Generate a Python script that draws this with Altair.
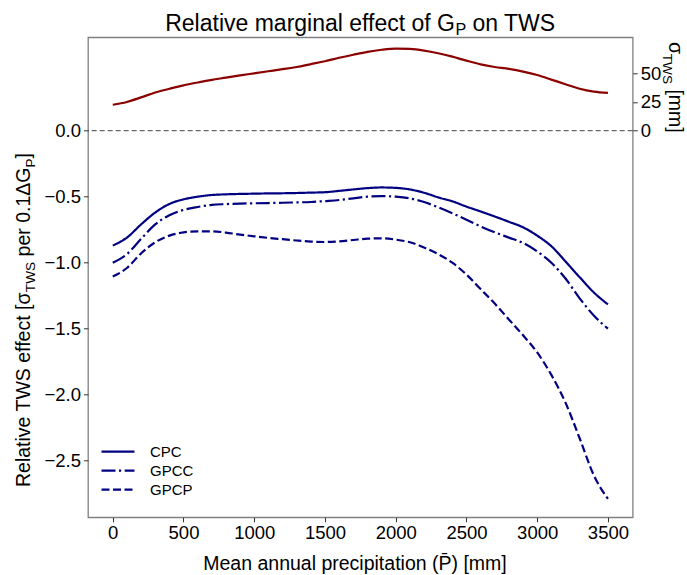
import altair as alt
import pandas as pd

# ---------------- data ----------------
precip = list(range(0, 3600, 100))

cpc = [-0.87, -0.81, -0.71, -0.62, -0.555, -0.52, -0.50, -0.487, -0.482, -0.479,
       -0.477, -0.475, -0.474, -0.472, -0.469, -0.466, -0.456, -0.445, -0.435, -0.43,
       -0.433, -0.445, -0.47, -0.505, -0.535, -0.575, -0.612, -0.65, -0.69, -0.732,
       -0.795, -0.875, -0.99, -1.11, -1.225, -1.316]

gpcc = [-1.00, -0.935, -0.82, -0.71, -0.64, -0.60, -0.578, -0.562, -0.556, -0.552,
        -0.550, -0.548, -0.546, -0.543, -0.540, -0.533, -0.525, -0.512, -0.500, -0.495,
        -0.500, -0.513, -0.540, -0.580, -0.625, -0.675, -0.725, -0.77, -0.81, -0.85,
        -0.915, -1.00, -1.12, -1.27, -1.40, -1.50]

gpcp = [-1.105, -1.04, -0.93, -0.845, -0.795, -0.77, -0.762, -0.762, -0.772, -0.787,
        -0.80, -0.812, -0.822, -0.832, -0.840, -0.843, -0.838, -0.828, -0.818, -0.815,
        -0.825, -0.845, -0.885, -0.935, -1.00, -1.09, -1.20, -1.31, -1.43, -1.55,
        -1.68, -1.85, -2.06, -2.33, -2.61, -2.79]

sigma_tws = [22.6, 25.0, 29.0, 33.3, 36.5, 39.5, 42.0, 44.3, 46.2, 48.2,
             50.0, 51.8, 53.6, 55.5, 58.0, 60.5, 63.5, 66.2, 68.7, 70.5,
             71.5, 71.2, 69.8, 67.5, 64.5, 61.0, 57.8, 55.5, 53.8, 51.5,
             48.5, 44.5, 40.5, 36.5, 34.0, 32.9]

series_names = ["CPC", "GPCC", "GPCP"]
x_ticks = [0, 500, 1000, 1500, 2000, 2500, 3000, 3500]
left_ticks = [-2.5, -2.0, -1.5, -1.0, -0.5, 0.0]
right_ticks = [0, 25, 50]

# ---------------- layout ----------------
FONT = "Liberation Sans"
NAVY = "#000080"
DARKRED = "#8b0000"
FRAME = "#808080"

PL, PT = 88.0, 37.3
PW, PH = 544.7, 480.0
PR = 687 - PL - PW
PB = 575 - PT - PH

x_dom = [-175, 3675]
yl_dom = [-2.9288, 0.7076]
yr_dom = [-336.8, 81.36]

long_df = pd.DataFrame({
    "precip": precip * 3,
    "effect": cpc + gpcc + gpcp,
    "series": [series_names[0]] * len(precip) + [series_names[1]] * len(precip) + [series_names[2]] * len(precip),
})
red_df = pd.DataFrame({"precip": precip, "sigma": sigma_tws})

axis_common = dict(
    labelFont=FONT, labelFontSize=18.5, labelColor="black",
    tickColor="#333333", tickSize=4.5, tickWidth=1, domain=False, grid=False,
    title=None,
)

x_scale = alt.Scale(domain=x_dom, nice=False, zero=False)
x_axis = alt.Axis(values=x_ticks, format="d", labelPadding=2, **axis_common)

lines = alt.Chart(long_df).mark_line(strokeWidth=2.2, color=NAVY, interpolate="monotone").encode(
    x=alt.X("precip:Q", scale=x_scale, axis=x_axis),
    y=alt.Y("effect:Q", scale=alt.Scale(domain=yl_dom, nice=False, zero=False),
            axis=alt.Axis(values=left_ticks, format=".1f", orient="left", labelPadding=3, **axis_common)),
    strokeDash=alt.StrokeDash(
        "series:N",
        scale=alt.Scale(domain=series_names, range=[[1, 0], [14, 3.5, 2.2, 3.5], [8, 3.5]]),
        legend=alt.Legend(
            title=None, orient="none", legendX=12, legendY=405,
            symbolType="stroke", symbolSize=1089, symbolStrokeWidth=2.2,
            symbolStrokeColor=NAVY, labelFont=FONT, labelFontSize=15,
            labelColor="black", labelOffset=14, rowPadding=0, clipHeight=18.5,
            padding=0,
        ),
    ),
    detail="series:N",
)

zero_rule = alt.Chart(alt.Data(values=[{"v": 0}])).mark_rule(
    color="#404040", strokeWidth=1, strokeDash=[5, 3]
).encode(y=alt.Y("v:Q"))

left_group = alt.layer(zero_rule, lines)

red_line = alt.Chart(red_df).mark_line(strokeWidth=2.2, color=DARKRED, interpolate="monotone").encode(
    x=alt.X("precip:Q", scale=x_scale, axis=x_axis),
    y=alt.Y("sigma:Q", scale=alt.Scale(domain=yr_dom, nice=False, zero=False),
            axis=alt.Axis(values=right_ticks, orient="right", labelPadding=3, **axis_common)),
)

# ---------------- rich text (subscripts) ----------------
CW = {
    " ": 278, "(": 333, ")": 333, "[": 278, "]": 278, ".": 278,
    "0": 556, "1": 556, "2": 556, "3": 556, "4": 556, "5": 556, "6": 556, "7": 556, "8": 556, "9": 556,
    "A": 667, "C": 722, "G": 778, "M": 833, "P": 667, "R": 722, "S": 667, "T": 611, "W": 944,
    "a": 556, "c": 500, "e": 556, "f": 278, "g": 556, "i": 222, "l": 222, "m": 833, "n": 556,
    "o": 556, "p": 556, "r": 333, "s": 500, "t": 278, "u": 556, "v": 500,
    "σ": 600, "Δ": 668,
}


def tw(s, fs):
    return sum(CW.get(c, 556) for c in s) / 1000.0 * fs


def txt(s, x, y, fs, angle=0):
    return alt.Chart(alt.Data(values=[{"k": 1}])).mark_text(
        text=s, font=FONT, fontSize=fs, angle=angle, align="left",
        baseline="alphabetic", color="black",
    ).encode(x=alt.value(x), y=alt.value(y))


def rich(segments, start, base, direction):
    """segments: list of (text, fontsize, shift). direction: 'h', 'up', 'down'"""
    layers = []
    cur = start
    for s, fs, sh in segments:
        lead = len(s) - len(s.lstrip(" "))
        cur_adv = tw(" " * lead, fs)
        body = s.lstrip(" ")
        if direction == "h":
            cur += cur_adv
            layers.append(txt(body, cur, base + sh, fs))
            cur += tw(body, fs)
        elif direction == "up":
            cur -= cur_adv
            layers.append(txt(body, base + sh, cur, fs, angle=270))
            cur -= tw(body, fs)
        else:
            cur += cur_adv
            layers.append(txt(body, base - sh, cur, fs, angle=90))
            cur += tw(body, fs)
    return layers


def total(segments):
    return sum(tw(s, fs) for s, fs, _ in segments)


TFS = 23
title_segs = [("Relative marginal effect of G", TFS, 0), ("P", TFS * 0.7, 3.5), (" on TWS", TFS, 0)]
title_layers = rich(title_segs, (360.4 - PL) - total(title_segs) / 2, 31 - PT, "h")

AFS = 19.5
xt_segs = [("Mean annual precipitation (P\u0304) [mm]", AFS, 0)]
xt_layers = rich(xt_segs, (360.4 - PL) - total(xt_segs) / 2, 570 - PT, "h")

yl_segs = [("Relative TWS effect [σ", AFS, 0), ("TWS", AFS * 0.7, 5),
           (" per 0.1ΔG", AFS, 0), ("P", AFS * 0.7, 5), ("]", AFS, 0)]
yl_layers = rich(yl_segs, (320 - PT) + total(yl_segs) / 2, 29.5 - PL, "up")

yr_segs = [("σ", AFS, 0), ("TWS", AFS * 0.7, 6), (" [mm]", AFS, 0)]
yr_layers = rich(yr_segs, 42 - PT, 669 - PL, "down")

chart = alt.layer(
    left_group, red_line, *title_layers, *xt_layers, *yl_layers, *yr_layers
).resolve_scale(
    y="independent"
).properties(
    width=PW, height=PH,
    autosize=alt.AutoSizeParams(type="none"),
    padding={"left": PL, "top": PT, "right": PR, "bottom": PB},
    background="white",
).configure_view(
    stroke=FRAME, strokeWidth=1.3
)

chart.save("out.html", embed_options={"renderer": "svg", "actions": False})
